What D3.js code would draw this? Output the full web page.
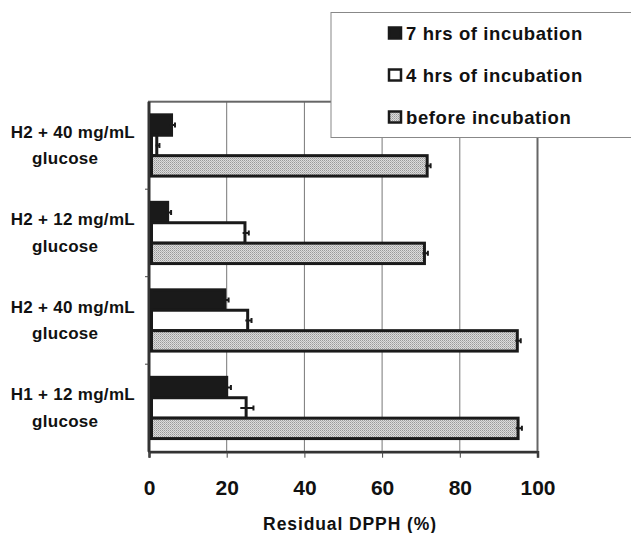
<!DOCTYPE html>
<html lang="en">
<head>
	<meta charset="UTF-8">
	<title>Residual DPPH</title>
	<style>
		html, body {
			margin: 0;
			background: #fff;
			font-family: 'Liberation Sans', Arial, sans-serif;
		}
		svg text {
			font-weight: 700;
			fill: #111;
		}
	</style>
	<script src="https://d3js.org/d3.v7.min.js"></script>
</head>
<body>
	<svg id="chart" width="631" height="533"></svg>
	<script>
		// data (top group first)
		const groups = ['g1', 'g2', 'g3', 'g4'];
		const groupLines = [
			['H2 + 40 mg/mL', 'glucose'],
			['H2 + 12 mg/mL', 'glucose'],
			['H2 + 40 mg/mL', 'glucose'],
			['H1 + 12 mg/mL', 'glucose'],
		];
		const seriesNames = ['7 hrs of incubation', '4 hrs of incubation', 'before incubation'];
		const hrs7 = [5.8, 4.8, 19.5, 20];
		const hrs4 = [2, 24.7, 25.4, 25];
		const before = [71.6, 70.9, 94.8, 95];
		const err7 = [0.5, 0.5, 0.6, 0.7];
		const err4 = [0.3, 0.6, 0.6, 1.5];
		const errBefore = [0.5, 0.5, 0.5, 0.6];
		const xTicks = [0, 20, 40, 60, 80, 100];

		const series = [
			{ name: seriesNames[0], values: hrs7, errs: err7, fill: '#1a1a1a' },
			{ name: seriesNames[1], values: hrs4, errs: err4, fill: '#ffffff' },
			{ name: seriesNames[2], values: before, errs: errBefore, fill: 'url(#dots)' },
		];

		const plot = { left: 149, right: 537.5, top: 101.7, bottom: 451.7 };
		const svg = d3.select('#chart');

		// dithered grey like the scanned fill
		const defs = svg.append('defs');
		const pat = defs.append('pattern')
			.attr('id', 'dots')
			.attr('width', 2).attr('height', 2)
			.attr('patternUnits', 'userSpaceOnUse');
		pat.append('rect').attr('width', 2).attr('height', 2).attr('fill', '#dcdcdc');
		pat.append('rect').attr('width', 1).attr('height', 1).attr('fill', '#999');
		pat.append('rect').attr('x', 1).attr('y', 1).attr('width', 1).attr('height', 1).attr('fill', '#b4b4b4');

		const x = d3.scaleLinear().domain([0, 100]).range([plot.left, plot.right]);
		const y = d3.scaleBand().domain(groups).range([plot.top, plot.bottom]).paddingInner(0.3).paddingOuter(0.15);
		const ySub = d3.scaleBand().domain(seriesNames).range([0, y.bandwidth()]);
		const groupBand = d3.scaleBand().domain(groups).range([plot.top, plot.bottom]);

		// gridlines
		svg.append('g')
			.selectAll('line')
			.data(xTicks.slice(1, -1))
			.join('line')
			.attr('x1', d => x(d)).attr('x2', d => x(d))
			.attr('y1', plot.top).attr('y2', plot.bottom)
			.attr('stroke', '#777').attr('stroke-width', 1);

		// frame
		svg.append('rect')
			.attr('x', plot.left).attr('y', plot.top)
			.attr('width', plot.right - plot.left).attr('height', plot.bottom - plot.top)
			.attr('fill', 'none').attr('stroke', '#666').attr('stroke-width', 2);

		// x axis
		const xAxis = svg.append('g')
			.attr('transform', `translate(0,${plot.bottom})`)
			.call(d3.axisBottom(x).tickValues(xTicks).tickSize(6).tickPadding(22).tickFormat(d3.format('d')));
		xAxis.select('.domain').attr('stroke', '#333').attr('stroke-width', 2.5);
		xAxis.selectAll('.tick line').attr('stroke', '#444');
		xAxis.selectAll('.tick text')
			.attr('font-size', 21).attr('font-family', "'Liberation Sans', Arial, sans-serif")
			.attr('font-weight', 700).attr('fill', '#111');

		// y axis (category separators as ticks)
		svg.append('line')
			.attr('x1', plot.left).attr('x2', plot.left)
			.attr('y1', plot.top).attr('y2', plot.bottom)
			.attr('stroke', '#333').attr('stroke-width', 3);
		svg.append('g')
			.selectAll('line')
			.data(groups.slice(1))
			.join('line')
			.attr('x1', plot.left - 4).attr('x2', plot.left)
			.attr('y1', d => groupBand(d)).attr('y2', d => groupBand(d))
			.attr('stroke', '#444').attr('stroke-width', 1);

		// category labels
		const labels = svg.append('g');
		groups.forEach((g, i) => {
			const cy = groupBand(g) + groupBand.bandwidth() / 2;
			labels.append('text')
				.attr('x', 135).attr('y', cy - 7.5)
				.attr('text-anchor', 'end')
				.attr('font-size', 17)
				.attr('letter-spacing', 0.3)
				.text(groupLines[i][0]);
			labels.append('text')
				.attr('x', 32).attr('y', cy + 19)
				.attr('font-size', 17)
				.attr('letter-spacing', 0.3)
				.text(groupLines[i][1]);
		});

		// bars
		const bars = svg.append('g');
		series.forEach(s => {
			const gSel = bars.append('g');
			gSel.selectAll('rect')
				.data(groups)
				.join('rect')
				.attr('x', x(0) + 2.5)
				.attr('y', d => y(d) + ySub(s.name))
				.attr('width', (d, i) => x(s.values[i]) - x(0) - 2.5)
				.attr('height', ySub.bandwidth())
				.attr('fill', s.fill)
				.attr('stroke', '#1a1a1a')
				.attr('stroke-width', 3);
			// error bars
			gSel.selectAll('path')
				.data(groups)
				.join('path')
				.attr('d', (d, i) => {
					const cy = y(d) + ySub(s.name) + ySub.bandwidth() / 2;
					const x0 = x(s.values[i] - s.errs[i]);
					const x1 = x(s.values[i] + s.errs[i]) + 1.5;
					return `M${x0},${cy}H${x1}M${x1},${cy - 2.5}V${cy + 2.5}`;
				})
				.attr('fill', 'none')
				.attr('stroke', '#1a1a1a')
				.attr('stroke-width', 2);
		});

		// axis title
		svg.append('text')
			.attr('x', 350).attr('y', 530)
			.attr('text-anchor', 'middle')
			.attr('font-size', 17.5)
			.attr('letter-spacing', 0.9)
			.text('Residual DPPH (%)');

		// legend box, runs off the right edge
		const legend = svg.append('g');
		legend.append('rect')
			.attr('x', 331).attr('y', 12.5)
			.attr('width', 320).attr('height', 125)
			.attr('fill', '#fff')
			.attr('stroke', '#888').attr('stroke-width', 1);
		const legendY = d3.scalePoint().domain(seriesNames).range([33, 117]);
		series.forEach(s => {
			const cy = legendY(s.name);
			legend.append('rect')
				.attr('x', 389).attr('y', cy - 5.5)
				.attr('width', 12).attr('height', 11)
				.attr('fill', s.fill)
				.attr('stroke', '#1a1a1a').attr('stroke-width', 2.5);
			legend.append('text')
				.attr('x', 406).attr('y', cy + 6.5)
				.attr('font-size', 18.5)
				.attr('letter-spacing', 0.6)
				.text(s.name);
		});
	</script>
</body>
</html>
